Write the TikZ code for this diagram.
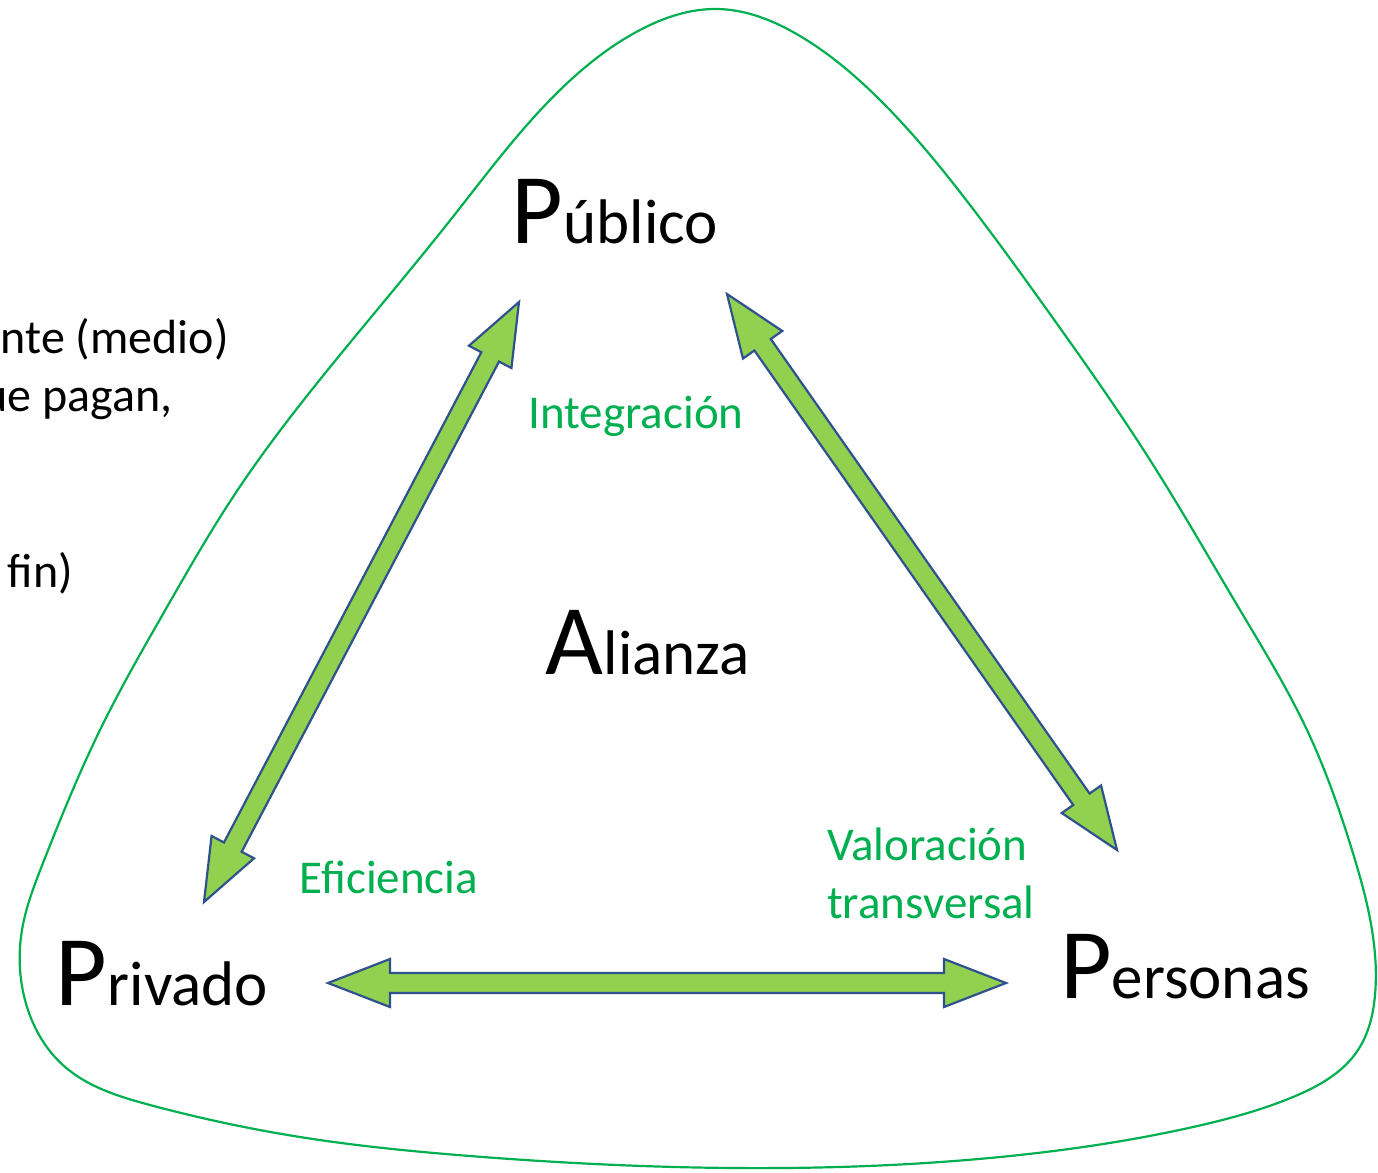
\documentclass[tikz,border=0pt]{standalone}
\usepackage{fontspec}
\setmainfont{Carlito}
\usetikzlibrary{calc,hobby}
\definecolor{ogreen}{HTML}{00B050}
\definecolor{afill}{HTML}{92D050}
\definecolor{aline}{HTML}{2F528F}
\newcommand{\bigini}[2]{{\fontsize{100}{100}\selectfont #1}{\fontsize{63}{63}\selectfont #2}}
\newcommand{\dblblock}[2]{%
  \coordinate (dbA1) at ($(#1)!62pt!(#2)$);
  \coordinate (dbB1) at ($(#2)!62pt!(#1)$);
  \filldraw[blockarrow] (#1) -- ($(dbA1)!24pt!90:(#2)$) -- ($(dbA1)!10pt!90:(#2)$)
    -- ($(dbB1)!10pt!-90:(#1)$) -- ($(dbB1)!24pt!-90:(#1)$) -- (#2)
    -- ($(dbB1)!24pt!90:(#1)$) -- ($(dbB1)!10pt!90:(#1)$)
    -- ($(dbA1)!10pt!-90:(#2)$) -- ($(dbA1)!24pt!-90:(#2)$) -- cycle;}
\tikzset{
  blockarrow/.style={fill=afill, draw=aline, line width=2.2pt, line join=miter},
  outline/.style={draw=ogreen, line width=2.2pt},
  corner/.style={inner sep=0pt, anchor=base, text=black},
  glabel/.style={inner sep=0pt, text=ogreen, font=\fontsize{47}{58}\selectfont},
  sidetext/.style={inner sep=0pt, anchor=base east, text=black, font=\fontsize{48}{58}\selectfont},
}
\begin{document}
\begin{tikzpicture}[x=1pt, y=-1pt]
\useasboundingbox (0,0) rectangle (1378,1172);
\fill[white] (0,0) rectangle (1378,1172);
% rounded triangle outline
\draw[outline, use Hobby shortcut, closed=true]
 (717,9) .. (800,36) .. (880,100) .. (970,205) .. (1050,314) .. (1150,460)
 .. (1240,610) .. (1307,730) .. (1352,850) .. (1372,930) .. (1375,995)
 .. (1358,1050) .. (1293,1097) .. (1193,1127) .. (1000,1157) .. (734,1168)
 .. (470,1156) .. (300,1137) .. (150,1105) .. (64,1066) .. (25,1000)
 .. (22,930) .. (43,863) .. (100,730) .. (167,607) .. (233,497) .. (344,350)
 .. (452,218) .. (560,90) .. (640,30);
% side text (cut at left edge, as in the reference)
\node[sidetext] (s1) at (229,353) {nte (medio)};
\node[sidetext] (s2) at (173,411) {ue pagan,};
\node[sidetext] (s3) at (73,587) {fin)};
% main nodes
\node[corner] (pub) at (615,243) {\bigini{P}{úblico}};
\node[corner] (ali) at (648,674) {\bigini{A}{lianza}};
\node[corner] (pri) at (162,1005) {\bigini{P}{rivado}};
\node[corner] (per) at (1185,998) {\bigini{P}{ersonas}};
% labels
\node[glabel, anchor=base] (lint) at (636,428) {Integración};
\node[glabel, anchor=base] (lefi) at (389,893) {Eficiencia};
\node[glabel, anchor=base west, align=left] (lval) at (827,918) {Valoración\\transversal};
% arrow tips
\coordinate (tPubL) at (519,302);
\coordinate (tPri) at (204,902);
\coordinate (tPubR) at (727,294);
\coordinate (tPer) at (1117,850);
\coordinate (tPriR) at (328,983);
\coordinate (tPerL) at (1006,983);
\dblblock{tPubL}{tPri}
\dblblock{tPubR}{tPer}
\dblblock{tPriR}{tPerL}
\end{tikzpicture}
\end{document}
